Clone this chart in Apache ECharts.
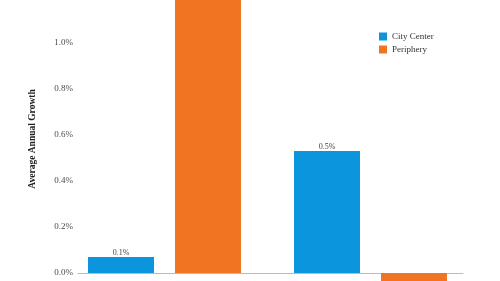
<!DOCTYPE html>
<html>
<head>
<meta charset="utf-8">
<script src="https://cdn.jsdelivr.net/npm/echarts@6/dist/echarts.min.js"></script>
<style>
html,body{margin:0;padding:0;background:#ffffff;}
#chart{width:500px;height:281px;}
</style>
</head>
<body>
<div id="chart"></div>
<script>
var categories = ['Population', 'Employment'];
var seriesNames = ['City Center', 'Periphery'];
var cityCenter = [0.07, 0.53];
var periphery = [1.35, -0.1];
var yTickMin = -0.2;
var yTickMax = 1.4;
var yTickStep = 0.2;
var yTitle = 'Average Annual Growth';

var serif = '"Liberation Serif", "DejaVu Serif", serif';
var blue = '#0a95dd';
var orange = '#f07422';

function pct(v) { return v.toFixed(1) + '%'; }

function items(arr) {
  return arr.map(function (v) {
    return { value: v, label: { position: v < 0 ? 'bottom' : 'top' } };
  });
}

var chart = echarts.init(document.getElementById('chart'), null, { renderer: 'canvas' });
chart.setOption({
  backgroundColor: '#ffffff',
  animation: false,
  grid: [
    { left: 61.5, right: 26.5, top: -49, bottom: -38, containLabel: false, outerBoundsMode: 'none' },
    { left: 78, right: 37, top: -49, bottom: -38, containLabel: false, outerBoundsMode: 'none' }
  ],
  xAxis: [
    {
      gridIndex: 0, type: 'category', data: categories,
      axisLine: { show: false }, axisTick: { show: false }, axisLabel: { show: false }
    },
    {
      gridIndex: 1, type: 'category', data: categories,
      axisLine: { show: true, onZero: true, lineStyle: { color: '#b4bcc4', width: 1 } },
      axisTick: { show: false }, axisLabel: { show: false }
    }
  ],
  yAxis: [
    {
      gridIndex: 0, type: 'value', min: yTickMin, max: yTickMax, interval: yTickStep,
      axisLine: { show: false }, axisTick: { show: false }, axisLabel: { show: false },
      splitLine: { show: false }
    },
    {
      gridIndex: 1, type: 'value', min: yTickMin, max: yTickMax, interval: yTickStep,
      axisLine: { show: false }, axisTick: { show: false }, splitLine: { show: false },
      axisLabel: {
        margin: 5, fontFamily: serif, fontSize: 9, color: '#4a4a4a',
        formatter: function (v) { return pct(v); }
      }
    }
  ],
  legend: {
    orient: 'vertical', left: 379, top: 32, padding: 0,
    itemWidth: 8, itemHeight: 8, itemGap: 4, icon: 'rect',
    textStyle: { fontFamily: serif, fontSize: 9, color: '#333333' },
    data: seriesNames
  },
  graphic: [
    {
      type: 'text', x: 33, y: 139, rotation: Math.PI / 2,
      style: {
        text: yTitle, fontFamily: serif, fontSize: 9.5, fontWeight: 'bold',
        fill: '#222222', align: 'center', verticalAlign: 'middle'
      }
    }
  ],
  series: [
    {
      name: seriesNames[0], type: 'bar', xAxisIndex: 0, yAxisIndex: 0,
      data: items(cityCenter), barWidth: 66, barGap: '31.8%',
      itemStyle: { color: blue },
      label: {
        show: true, distance: 0, fontFamily: serif, fontSize: 8, color: '#444444',
        formatter: function (p) { return pct(p.value); }
      }
    },
    {
      name: seriesNames[1], type: 'bar', xAxisIndex: 0, yAxisIndex: 0,
      data: items(periphery), barWidth: 66, barGap: '31.8%',
      itemStyle: { color: orange },
      label: {
        show: true, distance: 0, fontFamily: serif, fontSize: 8, color: '#444444',
        formatter: function (p) { return pct(p.value); }
      }
    }
  ]
});
</script>
</body>
</html>
